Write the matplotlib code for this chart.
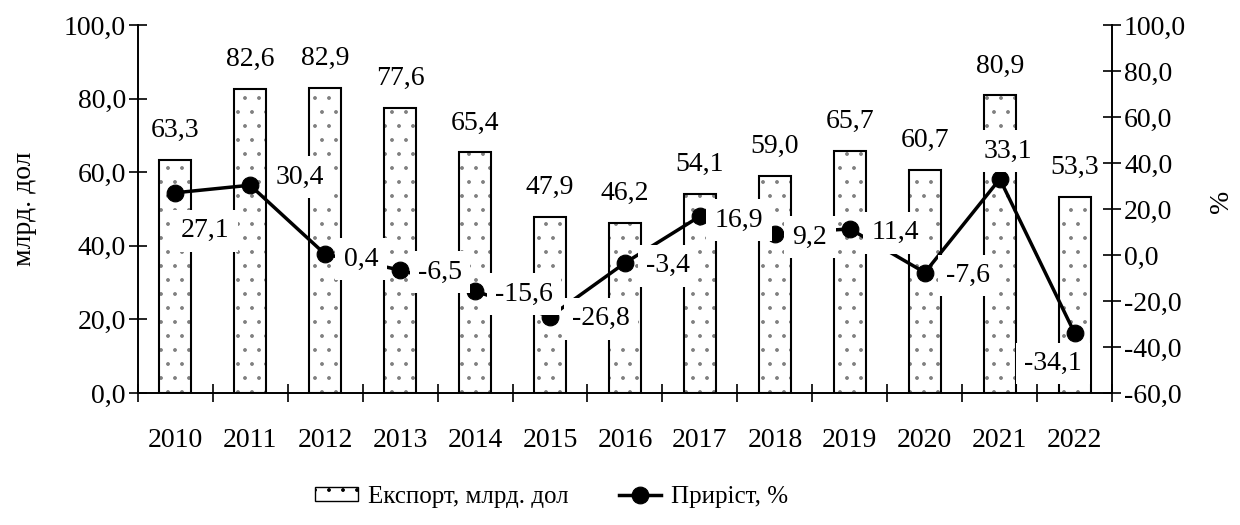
import matplotlib.pyplot as plt
import matplotlib.ticker as mticker
from matplotlib.patches import Patch

# dpi 84 дає крок крапкового штрихування ~14 пікселів, як в оригіналі
DPI = 84
S = 100 / DPI  # множник для розмірів у пунктах

plt.rcParams['font.family'] = ['Liberation Serif', 'DejaVu Serif']
plt.rcParams['hatch.linewidth'] = 0.7 * S

years = ['2010', '2011', '2012', '2013', '2014', '2015', '2016',
         '2017', '2018', '2019', '2020', '2021', '2022']
export = [63.3, 82.6, 82.9, 77.6, 65.4, 47.9, 46.2, 54.1, 59.0, 65.7, 60.7, 80.9, 53.3]
growth = [27.1, 30.4, 0.4, -6.5, -15.6, -26.8, -3.4, 16.9, 9.2, 11.4, -7.6, 33.1, -34.1]

# зсув центрів підписів приросту відносно точки (пікселі, вгору додатньо)
growth_offsets = [(30, -38), (50, 8), (36, -5), (40, -2), (49, -3), (51, -2), (43, -3),
                  (39, -4), (35, -3), (45, -4), (43, -3), (8, 28), (-22, -30)]

fs = 20 * S


def fmt(v):
    return f'{v:.1f}'.replace('.', ',')


fig = plt.figure(figsize=(1240 / DPI, 525 / DPI), dpi=DPI)
ax = fig.add_axes([0.111, 0.2514, 0.786, 0.7006])
ax2 = ax.twinx()

x = list(range(len(years)))

# Стовпці експорту: крапки сірим, контур чорним
ax.bar(x, export, width=0.43, color='white', edgecolor='#808080',
       linewidth=0, hatch='.', zorder=2)
ax.bar(x, export, width=0.43, color='none', edgecolor='black',
       linewidth=1.5 * S, zorder=2)
for xi, v in zip(x, export):
    ax.annotate(fmt(v), (xi, v), xytext=(0, 17), textcoords='offset pixels',
                ha='center', va='bottom', fontsize=fs)

# Лінія приросту
ax2.plot(x, growth, color='black', linewidth=2.5 * S, marker='o', markersize=12 * S,
         label='Приріст, %', zorder=3)
for xi, v, (dx, dy) in zip(x, growth, growth_offsets):
    ax2.annotate(fmt(v), (xi, v), xytext=(dx, dy), textcoords='offset pixels',
                 ha='center', va='center', fontsize=fs, zorder=4,
                 bbox=dict(boxstyle='square,pad=0.3', fc='white', ec='none'))

ax.set_xlim(-0.5, len(years) - 0.5)
ax.set_ylim(0, 100)
ax2.set_ylim(-60, 100)
ax.set_yticks(range(0, 101, 20))
ax2.set_yticks(range(-60, 101, 20))
ax.yaxis.set_major_formatter(mticker.FuncFormatter(lambda v, p: fmt(v)))
ax2.yaxis.set_major_formatter(mticker.FuncFormatter(lambda v, p: fmt(v)))

ax.set_xticks(x)
ax.set_xticklabels(years)
ax.set_xticks([i - 0.5 for i in range(len(years) + 1)], minor=True)
ax.tick_params(axis='x', which='major', length=0, labelsize=fs, pad=25 * S)
ax.tick_params(axis='x', which='minor', direction='inout', length=13 * S, width=1.2 * S)
ax.tick_params(axis='y', direction='inout', length=13 * S, width=1.2 * S,
               labelsize=fs, pad=2 * S)
ax2.tick_params(axis='y', direction='inout', length=13 * S, width=1.2 * S,
                labelsize=fs, pad=2 * S)

for a in (ax, ax2):
    a.spines['top'].set_visible(False)
    for s in ('left', 'right', 'bottom'):
        a.spines[s].set_linewidth(1.2 * S)

ax.set_ylabel('млрд. дол', fontsize=fs)
ax.yaxis.set_label_coords(-0.103, 0.5)
ax2.set_ylabel('%', fontsize=fs)
ax2.yaxis.set_label_coords(1.099, 0.52)

bar_handle = Patch(facecolor='white', edgecolor='black', hatch='.', linewidth=1.0 * S)
h2, l2 = ax2.get_legend_handles_labels()
fig.legend([bar_handle] + h2, ['Експорт, млрд. дол'] + l2, loc='lower center',
           ncol=2, frameon=False, fontsize=18 * S, bbox_to_anchor=(0.445, -0.01),
           columnspacing=2.0, handlelength=1.7, handleheight=0.5,
           handletextpad=0.4)

fig.savefig('out.png', dpi=DPI)
